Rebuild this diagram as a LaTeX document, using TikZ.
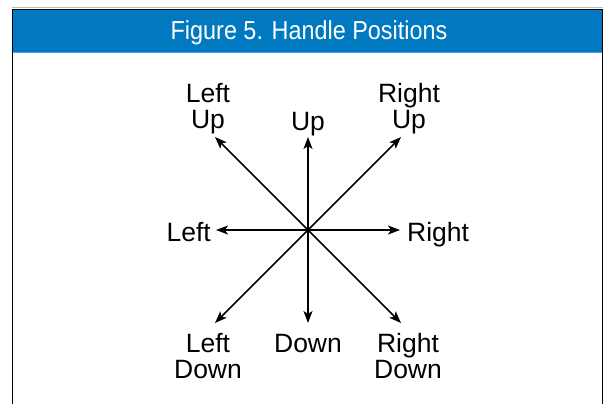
\documentclass[tikz,border=0pt]{standalone}
\usepackage{fontspec}
\usepackage{graphicx}
\setmainfont{Liberation Sans}
\usetikzlibrary{arrows.meta}
\definecolor{hdrblue}{RGB}{0,121,193}
\definecolor{hdrline}{RGB}{70,160,225}
\definecolor{topgrey}{RGB}{190,190,190}
\tikzset{
  arr/.style={line width=1.5pt,-{Stealth[length=12pt,width=9pt,inset=3pt]}},
  lbl/.style={inner sep=0pt,align=center,font=\fontsize{26.5}{26}\selectfont},
  titletext/.style={inner sep=0pt,text=white,font=\fontsize{26}{28}\selectfont}
}
\begin{document}
\begin{tikzpicture}[x=1pt,y=-1pt]
\useasboundingbox (0,0) rectangle (604,404);
\fill[white] (0,0) rectangle (604,404);
% frame and header
\draw[topgrey,line width=1pt] (12,8) -- (603,8);
\fill[hdrblue] (12,9) rectangle (603,52);
\draw[hdrline,line width=1.5pt] (12,52.5) -- (603,52.5);
\draw[black,line width=1.2pt] (12.6,9) -- (12.6,404);
\draw[black,line width=1.2pt] (602.6,9) -- (602.6,404);
\draw[black,line width=0.8pt] (12,9) -- (603,9);
\node[titletext] (title) at (309,33) {\scalebox{0.9}[1]{Figure 5. Handle Positions}};
% centre and tips
\coordinate (c) at (308,230);
\coordinate (tul) at (215,137);
\coordinate (tu) at (308,137);
\coordinate (tur) at (401,137);
\coordinate (tl) at (216,230);
\coordinate (tr) at (400,230);
\coordinate (tdl) at (215,323);
\coordinate (td) at (308,323);
\coordinate (tdr) at (401,323);
\foreach \t in {tul,tu,tur,tl,tr,tdl,td,tdr} \draw[arr] (c) -- (\t);
% labels
\node[lbl] (lul) at (208,109) {Left\\Up};
\node[lbl,anchor=base] (lu) at (308,130) {Up};
\node[lbl] (lur) at (409,109) {Right\\Up};
\node[lbl,anchor=base west] (lrt) at (407,241) {Right};
\node[lbl,anchor=base east] (llt) at (211,241) {Left};
\node[lbl] (ldl) at (208,356) {Left\\Down};
\node[lbl,anchor=base] (ld) at (308,352) {Down};
\node[lbl] (ldr) at (408,356) {Right\\Down};
\end{tikzpicture}
\end{document}
